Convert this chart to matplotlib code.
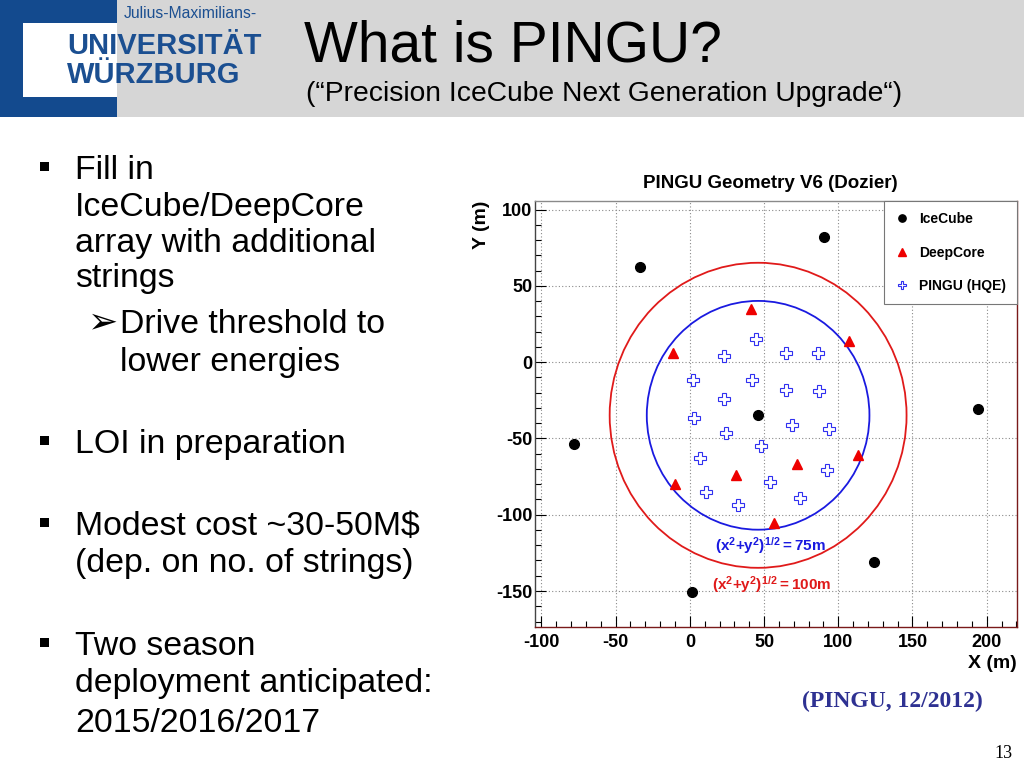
import numpy as np
import matplotlib.pyplot as plt
from matplotlib.patches import Circle, Rectangle
from matplotlib.ticker import MultipleLocator

plt.rcParams['font.family'] = ['Liberation Sans', 'DejaVu Sans']
plt.rcParams['mathtext.fontset'] = 'custom'
plt.rcParams['mathtext.rm'] = 'Liberation Sans'
plt.rcParams['mathtext.bf'] = 'Liberation Sans:bold'

# string positions (metres)
icecube_x = [-77.7, -33.3, 90.3, 45.8, 193.8, 124.2, 1.2]
icecube_y = [-53.9, 62.3, 81.9, -34.9, -30.8, -131.0, -150.4]
deepcore_x = [-11.6, 41.1, 107.1, -10.0, 30.9, 72.0, 113.0, 56.8]
deepcore_y = [5.9, 34.9, 14.2, -80.1, -73.8, -67.0, -60.9, -105.7]
pingu_x = [22.8, 44.9, 64.8, 86.5, 1.9, 41.8, 64.8, 86.7, 22.8, 2.6,
           68.9, 93.6, 24.7, 47.7, 6.7, 92.6, 53.7, 10.7, 74.3, 32.5]
pingu_y = [4.1, 15.0, 6.3, 6.1, -11.8, -11.8, -17.9, -19.0, -23.8, -36.9,
           -41.3, -43.9, -46.5, -55.0, -62.9, -70.7, -78.6, -84.9, -88.9, -93.7]
ring_center = (46.0, -34.8)
ring_radii = [75, 100]
ring_colors = ['#1a1ae0', '#e01a1a']
ring_labels = [r'$\mathbf{(x^{2}{+}y^{2})^{1/2}{=}75m}$', r'$\mathbf{(x^{2}{+}y^{2})^{1/2}{=}100m}$']
ring_label_pos = [(54.6, -120.5), (55.3, -145.5)]

xticks = [-100, -50, 0, 50, 100, 150, 200]
yticks = [-150, -100, -50, 0, 50, 100]

# slide text
bullets = [
    (['Fill in', 'IceCube/DeepCore', 'array with additional', 'strings'], [179, 216, 252, 287]),
    (['LOI in preparation'], [453]),
    (['Modest cost ~30-50M$', '(dep. on no. of strings)'], [535, 572]),
    (['Two season', 'deployment anticipated:', '2015/2016/2017'], [655, 692, 732]),
]
sub_bullet = ['Drive threshold to', 'lower energies']
sub_lines = [333, 371]

fig = plt.figure(figsize=(10.24, 7.68), dpi=100)
bg = fig.add_axes([0, 0, 1, 1])
bg.set_xlim(0, 1024)
bg.set_ylim(768, 0)
bg.axis('off')

# header band and logo
bg.add_patch(Rectangle((0, 0), 1024, 117, color='#d6d6d6', lw=0))
bg.add_patch(Rectangle((0, 0), 117, 117, color='#134a8e', lw=0))
bg.add_patch(Rectangle((23, 23), 94, 74, color='white', lw=0))
logo_blue = '#1b4f91'
bg.text(124, 18, 'Julius-Maximilians-', fontsize=11.3, color=logo_blue, va='baseline')
bg.text(67, 54, 'UNIVERSITÄT', fontsize=21, fontweight='bold', color=logo_blue, va='baseline')
bg.text(67, 83, 'WÜRZBURG', fontsize=21, fontweight='bold', color=logo_blue, va='baseline')

bg.text(304, 62, 'What is PINGU?', fontsize=41, va='baseline')
bg.text(306, 101, '(\u201cPrecision IceCube Next Generation Upgrade\u201c)', fontsize=20.3, va='baseline')

for lines, ys in bullets:
    bg.add_patch(Rectangle((39.5, ys[0] - 17), 9, 9, color='black', lw=0))
    for txt, y in zip(lines, ys):
        bg.text(75, y, txt, fontsize=24.4, va='baseline')
bg.text(88, sub_lines[0] - 1, '\u27a2', fontsize=26, va='baseline', family='DejaVu Sans')
for txt, y in zip(sub_bullet, sub_lines):
    bg.text(120, y, txt, fontsize=24.4, va='baseline')

bg.text(802, 707, '(PINGU, 12/2012)', fontsize=17, fontweight='bold', color='#2e3192',
        family='Liberation Serif', va='baseline')
bg.text(1013, 758, '13', fontsize=13, family='Liberation Serif', va='baseline', ha='right')

# geometry plot
ax = fig.add_axes([535 / 1024, 1 - 627 / 768, 482 / 1024, 426 / 768])
ax.set_xlim(-104.3, 220.4)
ax.set_ylim(-173.6, 105.7)

for r, c in zip(ring_radii, ring_colors):
    ax.add_patch(Circle(ring_center, r, fill=False, ec=c, lw=1.3, zorder=3))
for txt, (lx, ly), c in zip(ring_labels, ring_label_pos, ring_colors):
    ax.text(lx, ly, txt, color=c, fontsize=11, ha='center', va='center')

ax.plot(icecube_x, icecube_y, 'o', color='black', ms=7, ls='none', label='IceCube', zorder=4)
ax.plot(deepcore_x, deepcore_y, '^', color='#ee0000', ms=7.5, ls='none', label='DeepCore', zorder=4)
ax.plot(pingu_x, pingu_y, 'P', mfc='white', mec='#3030f0', mew=0.8, ms=8.5, ls='none',
        label='PINGU (HQE)', zorder=4)

ax.set_xticks(xticks, labels=[str(t) for t in xticks], fontweight='bold', fontsize=13)
ax.set_yticks(yticks, labels=[str(t) for t in yticks], fontweight='bold', fontsize=13)
ax.xaxis.set_minor_locator(MultipleLocator(10))
ax.yaxis.set_minor_locator(MultipleLocator(10))
ax.tick_params(which='both', direction='in', top=False, right=False, width=0.8)
ax.tick_params(which='major', length=8)
ax.tick_params(which='minor', length=4)
ax.tick_params(axis='x', pad=5)
ax.tick_params(axis='y', pad=2)
ax.grid(True, which='major', color='#8a8a8a', linestyle=(0, (1, 2)), linewidth=0.8)
ax.set_axisbelow(True)

ax.spines['left'].set_color('#444444')
ax.spines['top'].set_color('#8a8a8a')
ax.spines['bottom'].set_color('#7a1a1a')
ax.spines['right'].set_color('#7a1a1a')
for s in ax.spines.values():
    s.set_linewidth(1.0)

ax.set_xlabel('X (m)', loc='right', fontweight='bold', fontsize=14, labelpad=3)
ax.set_ylabel('Y (m)', loc='top', fontweight='bold', fontsize=14, labelpad=4)
ax.text(0.4875, 1.042, 'PINGU Geometry V6 (Dozier)', transform=ax.transAxes,
        ha='center', va='center', fontsize=13.5, fontweight='bold')

leg = ax.legend(loc='upper right', bbox_to_anchor=(1, 1), borderaxespad=0, fancybox=False,
                edgecolor='#777777', framealpha=1, prop={'weight': 'bold', 'size': 10},
                labelspacing=1.4, handlelength=1.0, handletextpad=0.7, borderpad=0.8,
                markerscale=0.75)
leg.get_frame().set_linewidth(0.8)

fig.savefig('out.png', dpi=100)
